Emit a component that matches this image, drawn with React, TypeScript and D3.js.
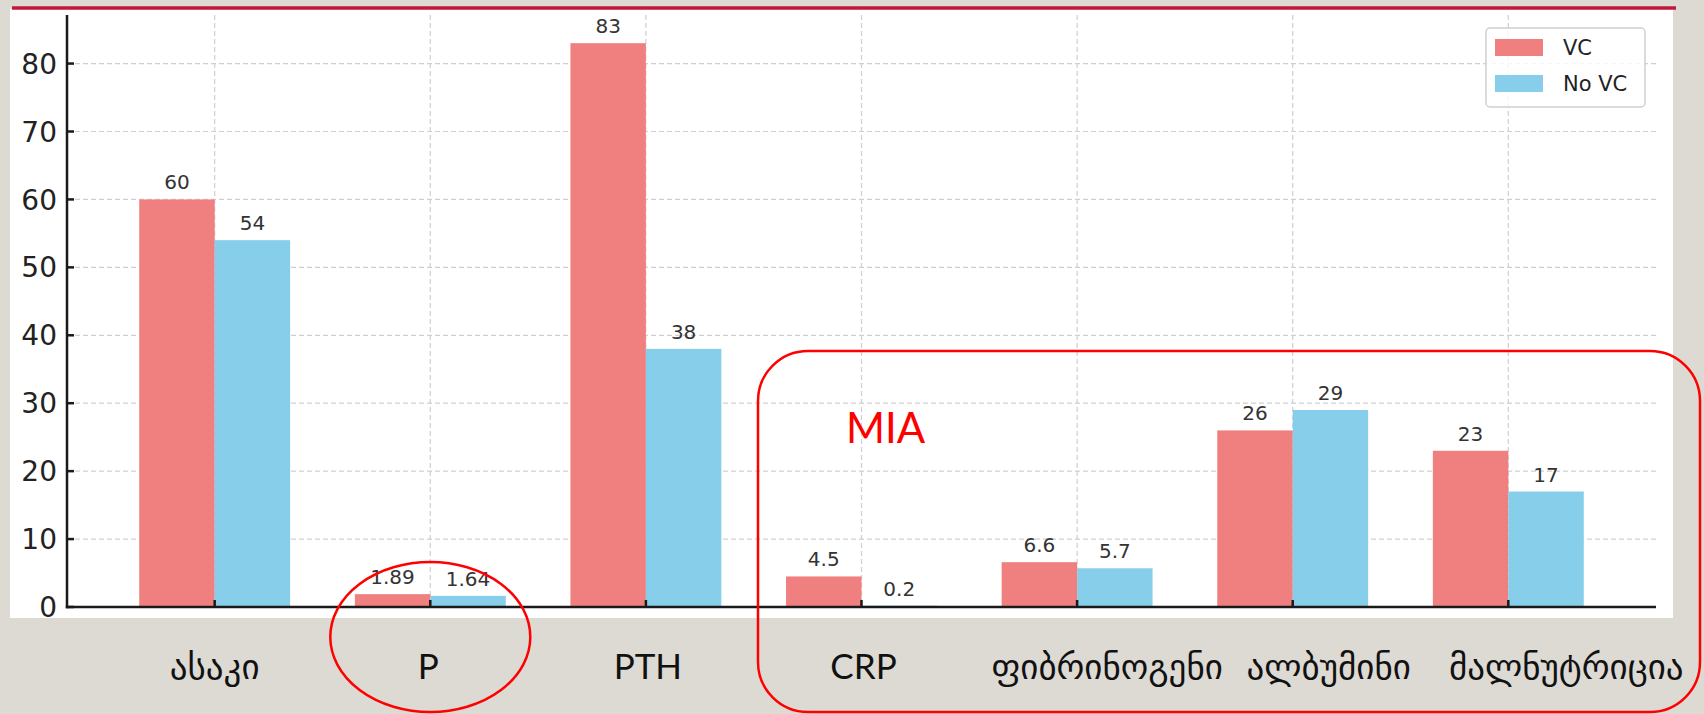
import React from "react";
import * as d3 from "d3";

// categories and the two series
const categories = ["ასაკი", "P", "PTH", "CRP", "ფიბრინოგენი", "ალბუმინი", "მალნუტრიცია"];
const vcValues = [60, 1.89, 83, 4.5, 6.6, 26, 23];
const noVcValues = [54, 1.64, 38, 0.2, 5.7, 29, 17];
const seriesNames = ["VC", "No VC"];
const seriesColors = ["#f08080", "#87ceeb"];
const annotationText = "MIA";

const W = 1704;
const H = 714;
const BAR_W = 0.35;

// the long georgian labels were pushed right on the slide so they fit in a row
const labelNudge = [0, -2, 2, 2, 30, 36, 58];

const plot = { left: 67, right: 1656, top: 15, bottom: 607 };

export default function App() {
    const x = d3
        .scaleLinear()
        .domain([-0.5 - BAR_W / 2 - 0.01, categories.length - 1 + 0.5 + BAR_W / 2 + 0.01])
        .range([plot.left, plot.right]);
    const yMax = d3.max([...vcValues, ...noVcValues]) * 1.05;
    const y = d3.scaleLinear().domain([0, yMax]).range([plot.bottom, plot.top]);
    const yTicks = y.ticks(10);

    const series = [vcValues, noVcValues];
    const tickFont = "'DejaVu Sans', sans-serif";

    return (
        <div style={{ position: "absolute", left: 0, top: 0, width: W, height: H }}>
            <svg width={W} height={H} style={{ display: "block" }}>
                <rect x={0} y={0} width={W} height={H} fill="#dddad4" />
                {/* white chart panel */}
                <rect x={10} y={9} width={1663} height={609} fill="#ffffff" />
                <line x1={12} x2={1676} y1={8} y2={8} stroke="#c0173c" strokeWidth={3.5} />

                {/* grid */}
                <g stroke="#cfcfcf" strokeWidth={1.2} strokeDasharray="5,3">
                    {yTicks
                        .filter((t) => t > 0)
                        .map((t) => (
                            <line key={"gy" + t} x1={plot.left} x2={plot.right} y1={y(t)} y2={y(t)} />
                        ))}
                    {categories.map((c, i) => (
                        <line key={"gx" + c} x1={x(i)} x2={x(i)} y1={plot.top} y2={plot.bottom} />
                    ))}
                </g>

                {/* bars */}
                {series.map((vals, s) =>
                    vals.map((v, i) => {
                        const x0 = s === 0 ? i - BAR_W : i;
                        return (
                            <rect
                                key={"b" + s + "-" + i}
                                x={x(x0)}
                                y={y(v)}
                                width={x(x0 + BAR_W) - x(x0)}
                                height={y(0) - y(v)}
                                fill={seriesColors[s]}
                            />
                        );
                    })
                )}

                {/* value labels */}
                {series.map((vals, s) =>
                    vals.map((v, i) => {
                        const cx = s === 0 ? i - BAR_W / 2 : i + BAR_W / 2;
                        return (
                            <text
                                key={"v" + s + "-" + i}
                                x={x(cx)}
                                y={y(v) - 10}
                                textAnchor="middle"
                                fontFamily={tickFont}
                                fontSize={20}
                                fill="#333"
                            >
                                {String(v)}
                            </text>
                        );
                    })
                )}

                {/* axes */}
                <g stroke="#1a1a1a" strokeWidth={2.5}>
                    <line x1={plot.left} x2={plot.left} y1={plot.top} y2={plot.bottom + 1.2} />
                    <line x1={plot.left - 1.2} x2={plot.right} y1={plot.bottom} y2={plot.bottom} />
                    {yTicks.map((t) => (
                        <line key={"ty" + t} x1={plot.left} x2={plot.left + 7} y1={y(t)} y2={y(t)} />
                    ))}
                    {categories.map((c, i) => (
                        <line key={"tx" + c} x1={x(i)} x2={x(i)} y1={plot.bottom} y2={plot.bottom - 7} />
                    ))}
                </g>
                {yTicks.map((t) => (
                    <text
                        key={"ly" + t}
                        x={plot.left - 10}
                        y={y(t)}
                        dy="0.36em"
                        textAnchor="end"
                        fontFamily={tickFont}
                        fontSize={28}
                        fill="#222"
                    >
                        {t}
                    </text>
                ))}

                {/* legend */}
                <g>
                    <rect x={1486} y={28} width={159} height={79} rx={4} fill="#ffffff" fillOpacity={0.8} stroke="#d0d0d0" strokeWidth={1.5} />
                    {seriesNames.map((n, s) => (
                        <g key={"lg" + n}>
                            <rect x={1495} y={39 + s * 36} width={48} height={17} fill={seriesColors[s]} />
                            <text x={1563} y={47.5 + s * 36} dy="0.36em" fontFamily={tickFont} fontSize={21} fill="#222">
                                {n}
                            </text>
                        </g>
                    ))}
                </g>

                {/* category labels on the slide */}
                {categories.map((c, i) => (
                    <text
                        key={"lc" + c}
                        x={x(i) + labelNudge[i]}
                        y={679}
                        textAnchor="middle"
                        fontFamily="Lato, 'DejaVu Sans', sans-serif"
                        fontSize={35}
                        fill="#111"
                    >
                        {c}
                    </text>
                ))}

                {/* slide annotations */}
                <ellipse cx={x(1)} cy={637} rx={100} ry={75} fill="none" stroke="#ff0000" strokeWidth={2.5} />
                <rect x={758} y={351} width={942} height={361} rx={50} fill="none" stroke="#ff0000" strokeWidth={2.5} />
                <text x={846} y={443} fontFamily="Lato, sans-serif" fontSize={42} fill="#ff0000">
                    {annotationText}
                </text>
            </svg>
        </div>
    );
}
